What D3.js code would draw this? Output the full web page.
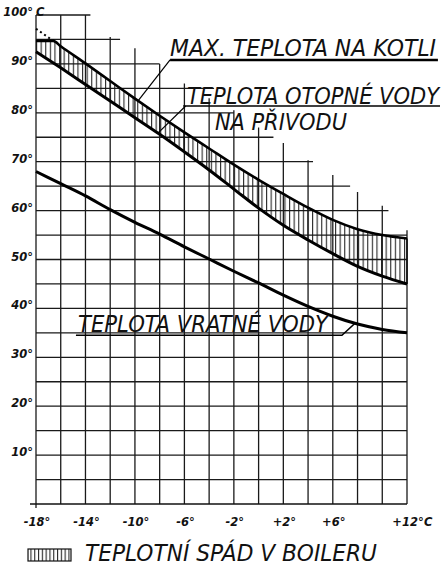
<!DOCTYPE html>
<html>
<head>
<meta charset="utf-8">
<script src="https://cdn.jsdelivr.net/npm/d3@7"></script>
<style>
  body { margin: 0; background: #fff; }
  text { fill: #111; }
  .tick-lbl { font-family: "DejaVu Sans", sans-serif; font-weight: bold; font-style: italic; font-size: 11.5px; }
  .note { font-family: "DejaVu Sans Condensed", "DejaVu Sans", sans-serif; font-style: italic; font-size: 23px; }
</style>
</head>
<body>
<div id="chart"></div>
<script>
var svgWidth = 445;
var svgHeight = 566;

var margin = { top: 15, right: 38, bottom: 62, left: 36 };
var width = svgWidth - margin.left - margin.right;
var height = svgHeight - margin.top - margin.bottom;

// outdoor temperature (x) and water temperatures (y)
var tempOut = [-18, -16, -14, -12, -10, -8, -6, -4, -2, 0, 2, 4, 6, 8, 10, 12];
var supplyTemp = [92.5, 89.2, 85.8, 82.4, 79, 75.6, 72, 68.3, 64.4, 60.5, 57, 54, 51.2, 48.6, 46.6, 45];
var returnTemp = [68, 65.5, 63, 60.2, 57.6, 55.2, 52.6, 50.1, 47.6, 45.2, 42.7, 40.4, 38.4, 36.8, 35.7, 35];

// max boiler temperature has a flat cap at the cold end
var maxTempX = [-18, -16.6, -16, -14, -12, -10, -8, -6, -4, -2, 0, 2, 4, 6, 8, 10, 12];
var maxTemp = [94.7, 94.7, 93.6, 90.1, 86.5, 82.9, 79.4, 76, 72.7, 69.4, 66.3, 63.4, 60.6, 58.1, 56.2, 55, 54.3];
var maxDotX = [-18, -16.6];
var maxDotTemp = [97.2, 94.7];

var xTickVals = [-18, -14, -10, -6, -2, 2, 6, 12];
var xTickLabels = ["-18°", "-14°", "-10°", "-6°", "-2°", "+2°", "+6°", "+12°"];
var yTickVals = [10, 20, 30, 40, 50, 60, 70, 80, 90, 100];
var yTickLabels = ["10°", "20°", "30°", "40°", "50°", "60°", "70°", "80°", "90°", "100°"];

// grid is stepped in the upper part of the drawing (lines stop short of the labels)
var vGridTop = [100, 100, 100, 95.5, 93.2, 90, 86, 83, 80.5, 77, 73.8, 70.3, 67.3, 63.8, 61, 56];
var hGridVals = [5, 10, 15, 20, 25, 30, 35, 40, 45, 50, 55, 60, 65, 70, 75, 80, 85, 90, 95, 100];
var hGridEnd = [12, 12, 12, 12, 12, 12, 12, 12, 12, 12, 12, 10.5, 7.4, 4.4, 1.2, -2, -3.6, -8, -11.2, -13.6];

var svg = d3.select("#chart")
  .append("svg")
  .attr("width", svgWidth)
  .attr("height", svgHeight);

var defs = svg.append("defs");

function hatch(id, step) {
  var p = defs.append("pattern")
    .attr("id", id)
    .attr("patternUnits", "userSpaceOnUse")
    .attr("width", step)
    .attr("height", 20);
  p.append("line")
    .attr("x1", 0.6).attr("x2", 0.6)
    .attr("y1", 0).attr("y2", 20)
    .attr("stroke", "#111")
    .attr("stroke-width", 1);
}
hatch("hatch", 4.6);
hatch("hatchLegend", 3.8);

var chartGroup = svg.append("g")
  .attr("transform", `translate(${margin.left}, ${margin.top})`);

var xScale = d3.scaleLinear().domain([-18, 12]).range([0, width]);
var yScale = d3.scaleLinear().domain([0, 100]).range([height, 0]);

// grid
chartGroup.append("g")
  .selectAll("line")
  .data(tempOut)
  .enter()
  .append("line")
  .attr("x1", d => xScale(d))
  .attr("x2", d => xScale(d))
  .attr("y1", (d, i) => yScale(vGridTop[i]))
  .attr("y2", (d, i) => i === 0 ? height + 4 : height)
  .attr("stroke", "#1a1a1a")
  .attr("stroke-width", 1.3);

chartGroup.append("g")
  .selectAll("line")
  .data(hGridVals)
  .enter()
  .append("line")
  .attr("x1", xScale(-18))
  .attr("x2", (d, i) => xScale(hGridEnd[i]))
  .attr("y1", d => yScale(d))
  .attr("y2", d => yScale(d))
  .attr("stroke", "#1a1a1a")
  .attr("stroke-width", 1.3);

// x axis base line
chartGroup.append("line")
  .attr("x1", -6).attr("x2", xScale(12))
  .attr("y1", height).attr("y2", height)
  .attr("stroke", "#111")
  .attr("stroke-width", 1.6);

// tick labels
chartGroup.append("g")
  .selectAll("text")
  .data(yTickVals)
  .enter()
  .append("text")
  .attr("class", "tick-lbl")
  .attr("x", -3)
  .attr("y", d => yScale(d) + 1)
  .attr("text-anchor", "end")
  .text((d, i) => yTickLabels[i]);

chartGroup.append("text")
  .attr("class", "tick-lbl")
  .attr("x", 0)
  .attr("y", yScale(100) + 1)
  .text("C");

chartGroup.append("g")
  .selectAll("text")
  .data(xTickVals)
  .enter()
  .append("text")
  .attr("class", "tick-lbl")
  .attr("x", d => xScale(d) + 1)
  .attr("y", height + 22)
  .attr("text-anchor", "middle")
  .text((d, i) => xTickLabels[i]);

chartGroup.append("text")
  .attr("class", "tick-lbl")
  .attr("x", xScale(12) + 17)
  .attr("y", height + 22)
  .text("C");

// curves
var maxPts = maxTempX.map((d, i) => [d, maxTemp[i]]);
var supplyPts = tempOut.map((d, i) => [d, supplyTemp[i]]);
var returnPts = tempOut.map((d, i) => [d, returnTemp[i]]);

var line = d3.line()
  .x(d => xScale(d[0]))
  .y(d => yScale(d[1]))
  .curve(d3.curveMonotoneX);

// hatched band between max boiler temp and supply temp
var upPath = line(maxPts);
var lowPath = line(supplyPts.slice().reverse());
chartGroup.append("path")
  .attr("d", upPath + "L" + lowPath.slice(1) + "Z")
  .attr("fill", "url(#hatch)")
  .attr("stroke", "none");

chartGroup.append("line")
  .attr("x1", xScale(12)).attr("x2", xScale(12))
  .attr("y1", yScale(maxTemp[maxTemp.length - 1]))
  .attr("y2", yScale(supplyTemp[supplyTemp.length - 1]))
  .attr("stroke", "#111")
  .attr("stroke-width", 1.6);

chartGroup.append("path")
  .attr("d", line(maxPts))
  .attr("fill", "none")
  .attr("stroke", "#000")
  .attr("stroke-width", 2.6);

chartGroup.append("path")
  .attr("d", line(maxDotX.map((d, i) => [d, maxDotTemp[i]])))
  .attr("fill", "none")
  .attr("stroke", "#000")
  .attr("stroke-width", 2)
  .attr("stroke-dasharray", "2,3");

chartGroup.append("path")
  .attr("d", line(supplyPts))
  .attr("fill", "none")
  .attr("stroke", "#000")
  .attr("stroke-width", 3);

chartGroup.append("path")
  .attr("d", line(returnPts))
  .attr("fill", "none")
  .attr("stroke", "#000")
  .attr("stroke-width", 3);

// value on a curve for the leader lines
var maxAt = d3.scaleLinear().domain(maxTempX).range(maxTemp);
var supplyAt = d3.scaleLinear().domain(tempOut).range(supplyTemp);
var returnAt = d3.scaleLinear().domain(tempOut).range(returnTemp);

function note(x, y, len, label) {
  chartGroup.append("text")
    .attr("class", "note")
    .attr("x", xScale(x))
    .attr("y", yScale(y))
    .attr("textLength", len)
    .attr("lengthAdjust", "spacingAndGlyphs")
    .text(label);
}

function leader(pts, w) {
  chartGroup.append("path")
    .attr("d", d3.line().x(d => xScale(d[0])).y(d => yScale(d[1]))(pts))
    .attr("fill", "none")
    .attr("stroke", "#000")
    .attr("stroke-width", w);
}

// MAX. TEPLOTA NA KOTLI
note(-7.16, 91.6, 266, "MAX. TEPLOTA NA KOTLI");
leader([[14.5, 90.8], [-7.16, 90.8]], 2.4);
leader([[-7.16, 90.8], [-9.75, maxAt(-9.75)]], 1.2);

// TEPLOTA OTOPNÉ VODY / NA PŘIVODU
note(-5.79, 81.8, 252, "TEPLOTA OTOPNÉ VODY");
leader([[14.67, 81.4], [-6.1, 81.4]], 1.6);
leader([[-5.9, 81.4], [-8.14, supplyAt(-8.14)]], 1.2);
note(-3.53, 76.5, 132, "NA PŘIVODU");

// TEPLOTA VRATNÉ VODY
note(-14.6, 35.2, 250, "TEPLOTA VRATNÉ VODY");
leader([[-14.77, 34.5], [6.74, 34.5], [7.8, returnAt(7.8)]], 1.6);

// legend
svg.append("rect")
  .attr("x", 28).attr("y", 549)
  .attr("width", 43).attr("height", 12)
  .attr("fill", "url(#hatchLegend)")
  .attr("stroke", "#111")
  .attr("stroke-width", 1.2);

svg.append("text")
  .attr("class", "note")
  .attr("x", 85)
  .attr("y", 561)
  .attr("font-size", 25)
  .attr("textLength", 292)
  .attr("lengthAdjust", "spacingAndGlyphs")
  .text("TEPLOTNÍ SPÁD V BOILERU");
</script>
</body>
</html>
